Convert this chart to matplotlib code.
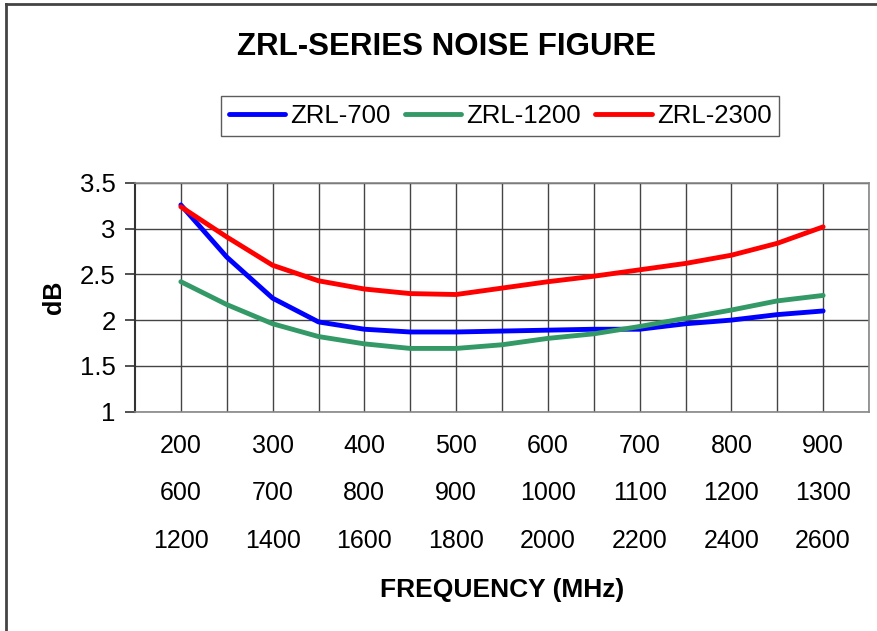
import matplotlib.pyplot as plt
from matplotlib.lines import Line2D

# Data, 50 MHz steps of the ZRL-700 scale
freq_700 = [200, 250, 300, 350, 400, 450, 500, 550, 600, 650, 700, 750, 800, 850, 900]
zrl_700 = [3.26, 2.69, 2.24, 1.98, 1.90, 1.87, 1.87, 1.88, 1.89, 1.90, 1.90, 1.96, 2.00, 2.06, 2.10]
zrl_1200 = [2.42, 2.17, 1.96, 1.82, 1.74, 1.69, 1.69, 1.73, 1.80, 1.85, 1.93, 2.02, 2.11, 2.21, 2.27]
zrl_2300 = [3.24, 2.91, 2.60, 2.43, 2.34, 2.29, 2.28, 2.35, 2.42, 2.48, 2.55, 2.62, 2.71, 2.84, 3.02]

row1 = ["200", "300", "400", "500", "600", "700", "800", "900"]
row2 = ["600", "700", "800", "900", "1000", "1100", "1200", "1300"]
row3 = ["1200", "1400", "1600", "1800", "2000", "2200", "2400", "2600"]

plt.rcParams["font.family"] = ["Liberation Sans", "DejaVu Sans"]

fig = plt.figure(figsize=(8.78, 6.31), dpi=100)
ax = fig.add_axes([135 / 878, 1 - 411.5 / 631, 734 / 878, 228.5 / 631])

x = list(range(len(freq_700)))
style = dict(lw=3.5, solid_capstyle="round", solid_joinstyle="round")
ax.plot(x, zrl_700, color="#0000ff", label="ZRL-700", **style)
ax.plot(x, zrl_1200, color="#339966", label="ZRL-1200", **style)
ax.plot(x, zrl_2300, color="#ff0000", label="ZRL-2300", **style)

ax.set_xlim(-1, len(x))
ax.set_ylim(1, 3.5)
ax.set_yticks([1, 1.5, 2, 2.5, 3, 3.5])
ax.set_yticklabels(["1", "1.5", "2", "2.5", "3", "3.5"], fontsize=18.5)

labels = [f"{a}\n{b}\n{c}" for a, b, c in zip(row1, row2, row3)]
ax.set_xticks(range(0, len(x), 2))
ax.set_xticklabels(labels, fontsize=18, linespacing=2.24)
ax.set_xticks(range(1, len(x) + 1, 2), minor=True)

# gridlines
ax.grid(which="both", axis="x", color="#444444", lw=1)
ax.grid(which="major", axis="y", color="#444444", lw=1)
ax.set_axisbelow(True)

ax.tick_params(axis="x", which="both", length=0, pad=16)
ax.tick_params(axis="y", length=7, width=1.2, color="#333333", pad=7)

for s in ["top", "right", "bottom"]:
    ax.spines[s].set_color("#888888")
    ax.spines[s].set_linewidth(1.2)
ax.spines["left"].set_color("#333333")
ax.spines["left"].set_linewidth(1.5)

ax.set_ylabel("dB", fontsize=18, fontweight="bold", labelpad=10)
ax.set_xlabel("FREQUENCY (MHz)", fontsize=19, fontweight="bold", labelpad=18)

fig.text(447 / 878, 1 - 47 / 631, "ZRL-SERIES NOISE FIGURE", ha="center", va="center",
         fontsize=22.5, fontweight="bold")

leg = ax.legend(loc="center", bbox_to_anchor=(500 / 878, 1 - 116 / 631), bbox_transform=fig.transFigure,
                ncol=3, fontsize=18.5, frameon=True, fancybox=False, edgecolor="#333333",
                handlelength=2.2, handletextpad=0.2, columnspacing=0.55, borderpad=0.3)
leg.get_frame().set_linewidth(1.0)

# outer frame (left and top only visible)
fig.add_artist(Line2D([6 / 878, 6 / 878], [0, 1 - 4 / 631], color="#444444", lw=2, transform=fig.transFigure))
fig.add_artist(Line2D([6 / 878, 1], [1 - 4 / 631, 1 - 4 / 631], color="#444444", lw=2, transform=fig.transFigure))

fig.savefig("out.png", dpi=100)
